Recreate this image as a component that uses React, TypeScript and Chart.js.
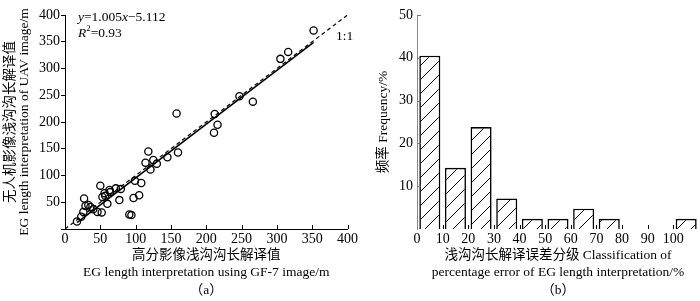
import React, { useEffect, useRef } from 'react';
import { Chart, registerables } from 'chart.js';

Chart.register(...registerables);

const FONT = '"Liberation Serif", "Noto Sans CJK SC", serif';
const INK = '#000';

// ---------- Panel (a): scatter ----------
const gf7Length = [17, 23, 26, 27, 29, 33, 36, 40, 46, 50, 52, 53, 56, 57, 60, 63, 64, 72, 77, 79, 91, 94, 97, 99, 105, 108, 114, 118, 121, 125, 130, 145, 160, 158, 211, 216, 212, 247, 266, 305, 316, 352];
const uavLength = [14, 23, 32, 57, 43, 45, 41, 37, 32, 81, 31, 60, 67, 62, 47, 73, 69, 76, 54, 75, 27, 26, 58, 90, 63, 86, 124, 145, 111, 129, 122, 134, 143, 216, 180, 195, 215, 248, 238, 318, 331, 371];
const fitSlope = 1.005;
const fitIntercept = -5.112;
const fitR2 = 0.93;
const fitRange = [17, 352];
const oneToOneRange = [0, 400];
const axisA = { min: 0, max: 400, step: 50 };
const xTitleA = ['高分影像浅沟沟长解译值', 'EG length interpretation using GF-7 image/m', '（a）'];
const yTitleA = ['无人机影像浅沟沟长解译值', 'EG length interpretation of UAV image/m'];

// ---------- Panel (b): histogram ----------
const errorClassStart = [0, 10, 20, 30, 40, 50, 60, 70, 80, 90, 100];
const classWidth = 10;
const frequencyPct = [40.48, 14.29, 23.81, 7.14, 2.38, 2.38, 4.76, 2.38, 0, 0, 2.38];
const xTitleB = ['浅沟沟长解译误差分级 Classification of', 'percentage error of EG length interpretation/%', '（b）'];
const yTitleB = '频率 Frequency/%';

const innerTicks = {
  id: 'innerTicks',
  afterDatasetsDraw(chart: any, _args: any, opts: any) {
    const ctx = chart.ctx;
    const { left, bottom } = chart.chartArea;
    ctx.save();
    ctx.lineWidth = 1;
    if (opts && opts.x) {
      const s = chart.scales.x;
      ctx.strokeStyle = opts.x.color;
      ctx.beginPath();
      s.ticks.forEach((t: any) => {
        if (t.value <= s.min || t.value > s.max) return;
        const px = Math.round(s.getPixelForValue(t.value)) + 0.5;
        ctx.moveTo(px, bottom);
        ctx.lineTo(px, bottom - opts.x.len);
      });
      ctx.stroke();
    }
    if (opts && opts.y) {
      const s = chart.scales.y;
      ctx.strokeStyle = opts.y.color;
      ctx.beginPath();
      s.ticks.forEach((t: any) => {
        if (t.value <= s.min) return;
        const py = Math.round(s.getPixelForValue(t.value)) + 0.5;
        ctx.moveTo(left, py);
        ctx.lineTo(left + opts.y.len, py);
      });
      ctx.stroke();
    }
    ctx.restore();
  },
};

function drawRich(ctx: CanvasRenderingContext2D, x: number, y: number, parts: { t: string; i?: boolean; sup?: boolean }[], size: number) {
  let cx = x;
  parts.forEach((p) => {
    const sz = p.sup ? size * 0.65 : size;
    ctx.font = `${p.i ? 'italic ' : ''}${sz}px ${FONT}`;
    const dy = p.sup ? -size * 0.35 : 0;
    ctx.fillText(p.t, cx, y + dy);
    cx += ctx.measureText(p.t).width;
  });
}

const fitLabels = {
  id: 'fitLabels',
  afterDraw(chart: any) {
    const ctx = chart.ctx;
    const { left, top } = chart.chartArea;
    const sx = chart.scales.x;
    const sy = chart.scales.y;
    ctx.save();
    ctx.fillStyle = INK;
    ctx.textBaseline = 'middle';
    ctx.textAlign = 'left';
    const sign = fitIntercept < 0 ? '−' : '+';
    drawRich(ctx, left + 13, top + 2, [
      { t: 'y', i: true },
      { t: `=${fitSlope.toFixed(3)}` },
      { t: 'x', i: true },
      { t: `${sign}${Math.abs(fitIntercept).toFixed(3)}` },
    ], 13.5);
    drawRich(ctx, left + 13, top + 18, [
      { t: 'R', i: true },
      { t: '2', sup: true },
      { t: `=${fitR2.toFixed(2)}` },
    ], 13.5);
    ctx.font = `13.5px ${FONT}`;
    ctx.textAlign = 'center';
    ctx.fillText('1:1', sx.getPixelForValue(396), sy.getPixelForValue(360));
    ctx.restore();
  },
};

function makeHatch(): CanvasPattern | string {
  const s = 14;
  const c = document.createElement('canvas');
  c.width = s;
  c.height = s;
  const g = c.getContext('2d');
  if (!g) return '#fff';
  g.fillStyle = '#fff';
  g.fillRect(0, 0, s, s);
  g.strokeStyle = '#000';
  g.lineWidth = 1;
  g.beginPath();
  g.moveTo(-1, s + 1);
  g.lineTo(s + 1, -1);
  g.moveTo(-2, 2);
  g.lineTo(2, -2);
  g.moveTo(s - 2, s + 2);
  g.lineTo(s + 2, s - 2);
  g.stroke();
  return g.createPattern(c, 'repeat') || '#fff';
}

const tickFont = { family: FONT, size: 14 };
const titleFont = { family: FONT, size: 13.5, lineHeight: 1.3 };
const yTitleFont = { family: FONT, size: 13.5, lineHeight: 1.06 };

export default function App() {
  const aRef = useRef<HTMLCanvasElement>(null);
  const bRef = useRef<HTMLCanvasElement>(null);

  useEffect(() => {
    if (!aRef.current || !bRef.current) return;
    const points = gf7Length.map((x, i) => ({ x, y: uavLength[i] }));
    const fitLine = fitRange.map((x) => ({ x, y: fitSlope * x + fitIntercept }));
    const oneLine = oneToOneRange.map((v) => ({ x: v, y: v }));

    const chartA = new Chart(aRef.current, {
      type: 'scatter',
      data: {
        datasets: [
          { data: points, pointStyle: 'circle', pointRadius: 3.6, borderColor: INK, borderWidth: 1.3, backgroundColor: 'rgba(0,0,0,0)', showLine: false },
          { data: fitLine, showLine: true, borderColor: INK, borderWidth: 1.6, pointRadius: 0 },
          { data: oneLine, showLine: true, borderColor: INK, borderWidth: 1.2, borderDash: [4, 3], pointRadius: 0 },
        ],
      } as any,
      options: {
        animation: false,
        responsive: false,
        maintainAspectRatio: false,
        layout: { padding: { left: 0, right: 12, top: 15, bottom: 0 } },
        plugins: {
          legend: { display: false },
          tooltip: { enabled: false },
          innerTicks: { x: { len: 4, color: INK } },
        } as any,
        scales: {
          x: {
            type: 'linear',
            min: axisA.min,
            max: axisA.max,
            ticks: { stepSize: axisA.step, font: tickFont, color: INK, padding: 2, maxRotation: 0 },
            grid: { display: false, drawTicks: false },
            border: { display: true, color: INK, width: 1 },
            title: { display: true, text: xTitleA, font: titleFont, color: INK, padding: { top: 0, bottom: 2 } },
            afterFit: (s: any) => { s.height = 72; },
          },
          y: {
            type: 'linear',
            min: axisA.min,
            max: axisA.max,
            ticks: { stepSize: axisA.step, font: tickFont, color: INK, padding: 1, callback: (v: any) => (v === 0 ? '' : v) },
            grid: { display: true, drawOnChartArea: false, drawTicks: true, tickLength: 4, color: INK },
            border: { display: true, color: INK, width: 1 },
            title: { display: true, text: yTitleA, font: yTitleFont, color: INK, padding: { top: 3, bottom: 0 } },
            afterFit: (s: any) => { s.width = 65; },
          },
        },
      },
      plugins: [innerTicks, fitLabels],
    } as any);

    const hatch = makeHatch();
    const bars = frequencyPct.map((v, i) => ({ x: errorClassStart[i] + classWidth / 2, y: v }));
    const xMaxB = errorClassStart[errorClassStart.length - 1] + classWidth;

    const chartB = new Chart(bRef.current, {
      type: 'bar',
      data: {
        datasets: [
          { data: bars, backgroundColor: hatch, borderColor: INK, borderWidth: 1.6, barPercentage: 0.82, categoryPercentage: 1 },
        ],
      } as any,
      options: {
        animation: false,
        responsive: false,
        maintainAspectRatio: false,
        layout: { padding: { left: 0, right: 1, top: 15, bottom: 0 } },
        plugins: {
          legend: { display: false },
          tooltip: { enabled: false },
          innerTicks: { x: { len: 4, color: INK }, y: { len: 4, color: '#777' } },
        } as any,
        scales: {
          x: {
            type: 'linear',
            offset: false,
            min: 0,
            max: xMaxB,
            afterBuildTicks: (s: any) => { s.ticks = s.ticks.filter((t: any) => t.value < xMaxB); },
            ticks: { stepSize: classWidth, font: tickFont, color: INK, padding: 2, maxRotation: 0, autoSkip: false },
            grid: { display: false, drawTicks: false, offset: false },
            border: { display: false },
            title: { display: true, text: xTitleB, font: titleFont, color: INK, padding: { top: 0, bottom: 2 } },
            afterFit: (s: any) => { s.height = 72; },
          },
          y: {
            type: 'linear',
            min: 0,
            max: 50,
            ticks: { stepSize: 10, font: tickFont, color: INK, padding: 4, callback: (v: any) => (v === 0 ? '' : v) },
            grid: { display: false, drawTicks: false },
            border: { display: true, color: '#888', width: 1 },
            title: { display: true, text: yTitleB, font: yTitleFont, color: INK, padding: { top: 16, bottom: 0 } },
            afterFit: (s: any) => { s.width = 57; },
          },
        },
      },
      plugins: [innerTicks],
    } as any);

    return () => {
      chartA.destroy();
      chartB.destroy();
    };
  }, []);

  return (
    <div style={{ position: 'fixed', left: 0, top: 0, width: 700, height: 301, background: '#fff' }}>
      <canvas ref={aRef} width={360} height={301} style={{ position: 'absolute', left: 0, top: 0, width: 360, height: 301 }} />
      <canvas ref={bRef} width={340} height={301} style={{ position: 'absolute', left: 360, top: 0, width: 340, height: 301 }} />
    </div>
  );
}
